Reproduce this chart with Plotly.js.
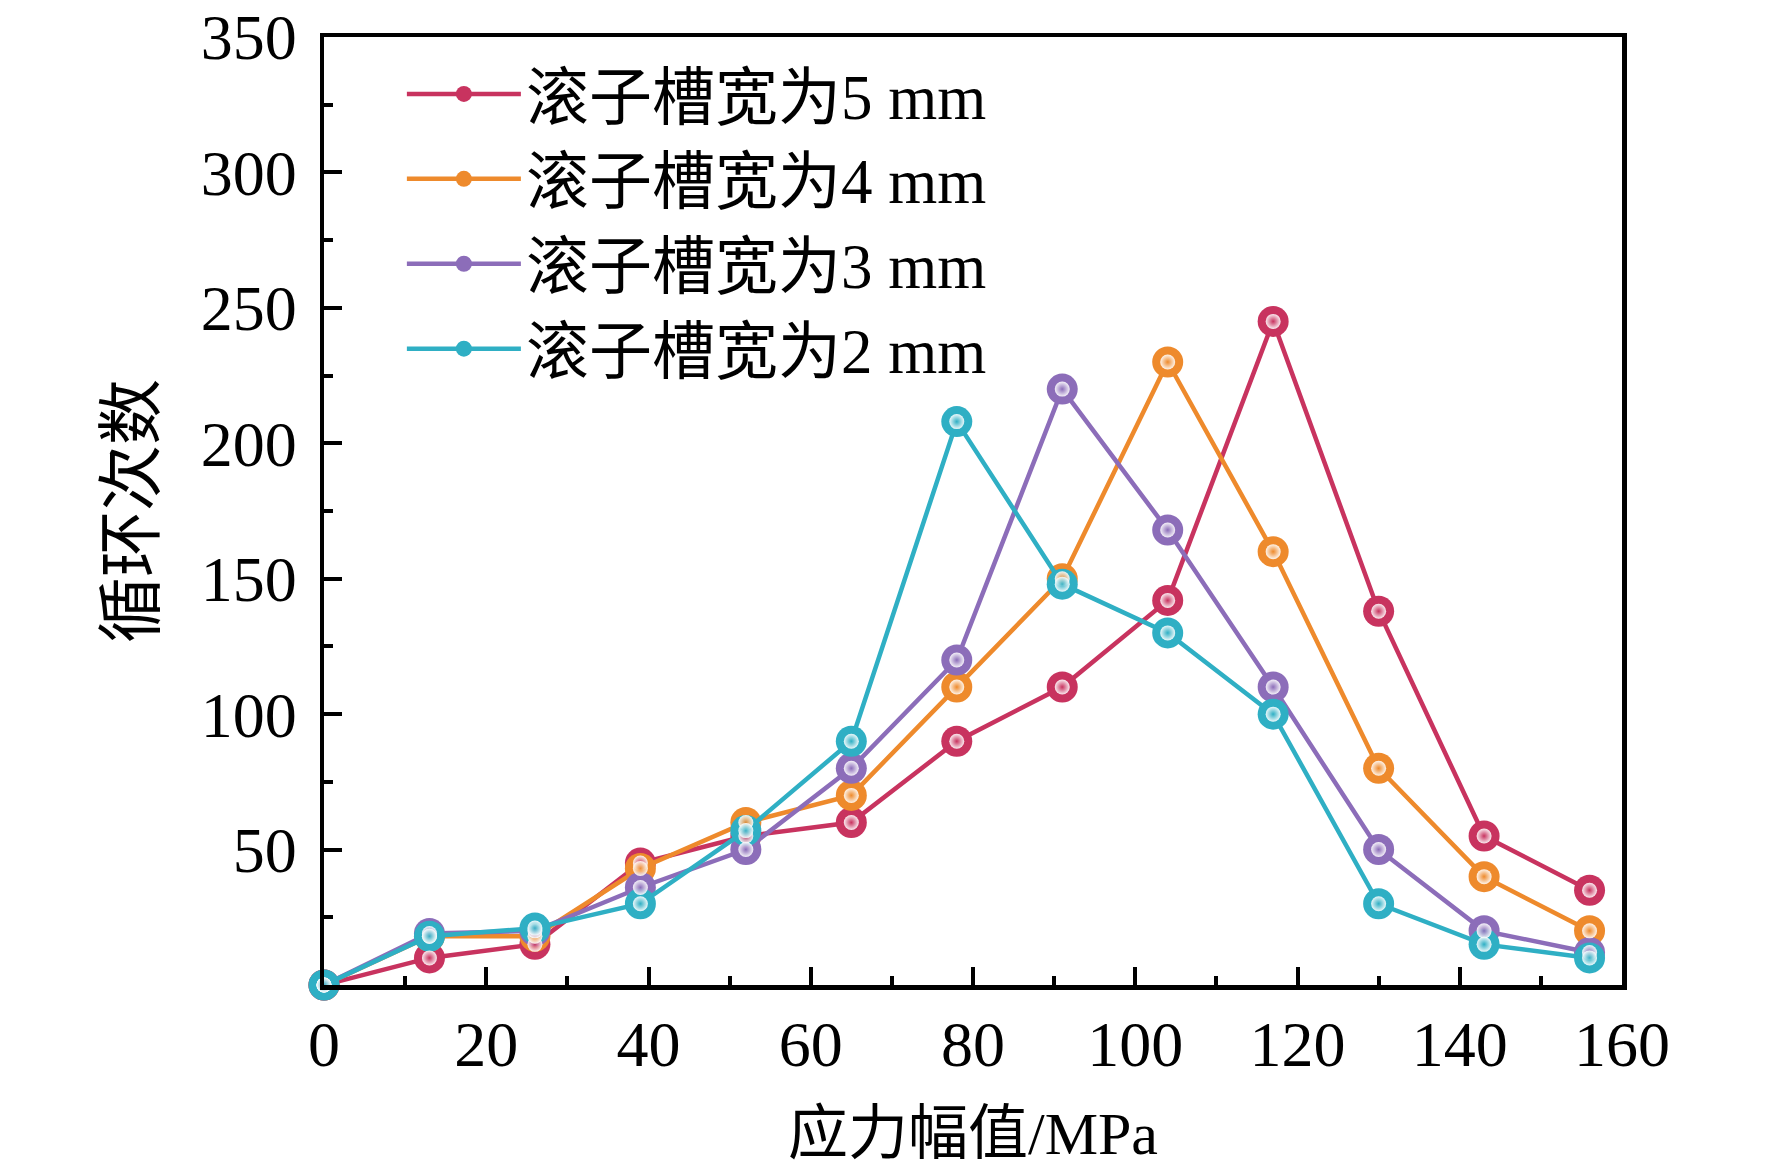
<!DOCTYPE html>
<html>
<head>
<meta charset="utf-8">
<script src="https://cdn.plot.ly/plotly-3.0.1.min.js"></script>
<style>
  body { margin: 0; background: #fff; }
  #plot { width: 1772px; height: 1170px; }
</style>
</head>
<body>
<div id="plot"></div>
<script>
// stress amplitude (MPa)
const stress = [0, 13, 26, 39, 52, 65, 78, 91, 104, 117, 130, 143, 156]

// cycle counts per roller groove width
const w5 = [0, 10, 15, 45, 55, 60, 90, 110, 142, 245, 138, 55, 35]
const w4 = [0, 18, 18, 43, 60, 70, 110, 150, 230, 160, 80, 40, 20]
const w3 = [0, 19, 20, 36, 50, 80, 120, 220, 168, 110, 50, 20, 12]
const w2 = [0, 18, 21, 30, 57, 90, 208, 148, 130, 100, 30, 15, 10]

const names = ["滚子槽宽为5 mm", "滚子槽宽为4 mm", "滚子槽宽为3 mm", "滚子槽宽为2 mm"]
const colors = ["#C8335F", "#EE8A2C", "#8C6DB9", "#2FAFC4"]
const series = [w5, w4, w3, w2]

const yTicks = [50, 100, 150, 200, 250, 300, 350]
const xTicks = [0, 20, 40, 60, 80, 100, 120, 140, 160]

const font = "Liberation Serif, 'Times New Roman', 'Noto Sans CJK SC', serif"

function plot(){
    const data = []
    series.forEach(function (ys, i){
        data.push({
            x: stress,
            y: ys,
            name: names[i],
            legendgroup: "g" + i,
            type: "scatter",
            mode: "lines+markers",
            cliponaxis: false,
            line: {color: colors[i], width: 4.5},
            marker: {color: colors[i], size: 31}
        })
    })
    // little glossy highlight on top of every ball
    series.forEach(function (ys, i){
        data.push({
            x: stress,
            y: ys,
            legendgroup: "g" + i,
            showlegend: false,
            hoverinfo: "skip",
            type: "scatter",
            mode: "markers",
            cliponaxis: false,
            marker: {
                color: "#ffffff",
                size: 15,
                opacity: 0.9,
                gradient: {type: "radial", color: colors[i]}
            }
        })
    })

    const layout = {
        width: 1772,
        height: 1170,
        margin: {l: 324, r: 150, t: 37, b: 185},
        paper_bgcolor: "#fff",
        plot_bgcolor: "#fff",
        font: {family: font, size: 62, color: "#000"},
        showlegend: true,
        legend: {
            x: 0.06,
            y: 0.99,
            xanchor: "left",
            yanchor: "top",
            bgcolor: "rgba(0,0,0,0)",
            itemwidth: 114,
            tracegroupgap: 0,
            font: {family: font, size: 63, color: "#000"}
        },
        xaxis: {
            range: [0, 160],
            tickvals: xTicks,
            ticks: "inside",
            ticklen: 18,
            tickwidth: 4,
            tickcolor: "#000",
            minor: {dtick: 10, ticks: "inside", ticklen: 9, tickwidth: 4, tickcolor: "#000"},
            showline: true,
            linewidth: 4.5,
            linecolor: "#000",
            mirror: true,
            showgrid: false,
            zeroline: false,
            ticklabelstandoff: 0,
            ticklabeloverflow: "allow",
            tickfont: {family: font, size: 64},
            title: {text: "应力幅值/MPa", font: {family: font, size: 60}, standoff: 34}
        },
        yaxis: {
            range: [0, 350],
            tickvals: yTicks,
            ticks: "inside",
            ticklen: 18,
            tickwidth: 4,
            tickcolor: "#000",
            minor: {dtick: 25, ticks: "inside", ticklen: 9, tickwidth: 4, tickcolor: "#000"},
            showline: true,
            linewidth: 4.5,
            linecolor: "#000",
            mirror: true,
            showgrid: false,
            zeroline: false,
            ticklabelstandoff: 10,
            ticklabeloverflow: "allow",
            tickfont: {family: font, size: 64},
            title: {text: "循环次数", font: {family: font, size: 66}, standoff: 26}
        }
    }

    Plotly.newPlot("plot", data, layout, {staticPlot: true})
}

plot()
</script>
</body>
</html>
